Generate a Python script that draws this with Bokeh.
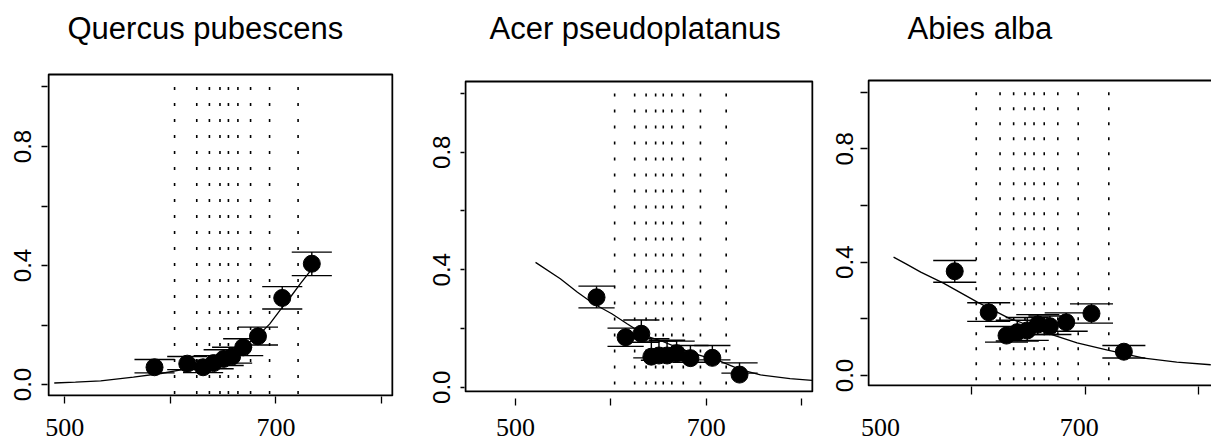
from bokeh.plotting import figure
from bokeh.layouts import row
from bokeh.models import FixedTicker, Range1d, Label, BoxAnnotation
from bokeh.embed import file_html
from bokeh.resources import INLINE

# ---------------- data ----------------
titles = ["Quercus pubescens", "Acer pseudoplatanus", "Abies alba"]

# dotted vertical lines (class boundaries), same in every panel
breaks = [604, 625, 637, 647, 655, 664, 676, 694, 721]
break_top = 1.0
break_bottom = -0.1

y_ticks = [0.0, 0.2, 0.4, 0.6, 0.8, 1.0]
y_labels = {0.0: "0.0", 0.2: "", 0.4: "0.4", 0.6: "", 0.8: "0.8", 1.0: ""}
x_ticks = [500, 600, 700, 800]
x_labels = {500: "500", 600: "", 700: "700", 800: ""}

cap_half_width = 19

# Quercus pubescens
q_x = [585, 616, 631, 641, 650.5, 658.5, 669, 683, 706, 734]
q_y = [0.058, 0.070, 0.058, 0.072, 0.086, 0.094, 0.125, 0.162, 0.291, 0.406]
q_lo = [0.039, 0.050, 0.040, 0.053, 0.064, 0.072, 0.097, 0.133, 0.254, 0.366]
q_hi = [0.084, 0.094, 0.082, 0.097, 0.117, 0.125, 0.154, 0.193, 0.329, 0.445]
q_cx = [490, 510, 534, 565, 591, 610, 628, 645, 660, 672, 682, 694, 704, 714, 723, 734]
q_cy = [0.005, 0.008, 0.012, 0.025, 0.037, 0.049, 0.064, 0.084, 0.109, 0.134,
        0.160, 0.203, 0.250, 0.295, 0.338, 0.388]

# Acer pseudoplatanus
a_x = [585, 615.5, 632, 642.5, 650.5, 659, 669, 683.5, 706.5, 735]
a_y = [0.306, 0.170, 0.182, 0.104, 0.108, 0.108, 0.116, 0.099, 0.100, 0.043]
a_lo = [0.270, 0.139, 0.153, 0.100, 0.092, 0.090, 0.095, 0.085, 0.093, 0.048]
a_hi = [0.344, 0.201, 0.229, 0.165, 0.157, 0.160, 0.157, 0.142, 0.142, 0.083]
a_cx = [521, 547, 565, 582, 601, 617, 638, 652, 670, 690, 715, 736, 757, 788, 811]
a_cy = [0.425, 0.369, 0.323, 0.284, 0.250, 0.216, 0.173, 0.159, 0.135, 0.112,
        0.088, 0.060, 0.042, 0.029, 0.023]

# Abies alba
b_x = [585, 615, 630.7, 640.2, 649, 658.3, 669, 683.4, 705.7, 734.3]
b_y = [0.368, 0.223, 0.141, 0.153, 0.159, 0.180, 0.174, 0.188, 0.219, 0.084]
b_lo = [0.329, 0.191, 0.118, 0.122, 0.124, 0.145, 0.145, 0.156, 0.185, 0.062]
b_hi = [0.406, 0.257, 0.173, 0.195, 0.205, 0.215, 0.210, 0.221, 0.253, 0.106]
b_cx = [531, 542, 555, 575, 605, 634, 643, 664, 693, 720, 752, 781, 811]
b_cy = [0.418, 0.394, 0.365, 0.326, 0.259, 0.200, 0.188, 0.153, 0.115, 0.090,
        0.061, 0.047, 0.038]

# label positions on the third panel's axis (as printed in the figure)
b_label_pos = {519.5: "500", 695: "700"}


def panel(title, xs, ys, lo, hi, cx, cy, xr, yr, box, fw, fh, bl, br, bb,
          t_x, t_y, ytick_len, ystand, xstand, dash):
    p = figure(title=None, frame_width=fw, frame_height=fh, min_border_left=bl,
               min_border_right=br, min_border_top=7, min_border_bottom=bb,
               x_range=Range1d(*xr), y_range=Range1d(*yr),
               output_backend="svg", toolbar_location=None)
    p.grid.visible = False
    p.background_fill_color = "white"
    p.border_fill_color = "white"
    p.outline_line_color = None

    # plot box (R style), drawn inside the frame
    p.add_layout(BoxAnnotation(left=box[0], right=box[1], bottom=box[2], top=box[3],
                               fill_color=None, line_color="black",
                               line_alpha=1.0, line_width=2))

    p.yaxis.ticker = FixedTicker(ticks=y_ticks)
    p.yaxis.major_label_overrides = y_labels
    p.yaxis.major_label_orientation = "vertical"
    p.yaxis.major_label_text_font = "Liberation Sans"
    p.yaxis.major_label_text_font_size = "24px"
    p.yaxis.major_label_text_color = "black"
    p.yaxis.major_label_standoff = ystand
    p.yaxis.major_tick_in = 0
    p.yaxis.major_tick_out = ytick_len
    p.yaxis.minor_tick_line_color = None
    p.yaxis.axis_line_color = None

    p.xaxis.ticker = FixedTicker(ticks=x_ticks)
    p.xaxis.major_label_overrides = x_labels
    p.xaxis.major_label_text_font = "Liberation Serif"
    p.xaxis.major_label_text_font_size = "26px"
    p.xaxis.major_label_text_color = "black"
    p.xaxis.major_label_standoff = xstand
    p.xaxis.major_tick_in = 0
    p.xaxis.major_tick_out = 7
    p.xaxis.minor_tick_line_color = None
    p.xaxis.axis_line_color = None
    for ax in (p.xaxis, p.yaxis):
        ax.major_tick_line_color = "black"
        ax.major_tick_line_width = 1.3

    # panel title (screen offsets from the frame's lower-left corner)
    p.add_layout(Label(x=t_x, y=t_y, x_units="screen", y_units="screen",
                       text=title, text_font="Liberation Sans",
                       text_font_size="31px", text_color="black",
                       text_align="left", text_baseline="alphabetic"))

    # dotted class boundaries
    p.segment(x0=breaks, y0=[break_top] * len(breaks), x1=breaks,
              y1=[break_bottom] * len(breaks), line_color="black",
              line_width=1.6, line_dash=dash)
    # fitted curve
    p.line(cx, cy, line_color="black", line_width=1.3)
    # error bars
    left = [v - cap_half_width for v in xs]
    right = [v + cap_half_width for v in xs]
    p.segment(x0=xs, y0=lo, x1=xs, y1=hi, line_color="black", line_width=1.4)
    p.segment(x0=left, y0=lo, x1=right, y1=lo, line_color="black", line_width=1.4)
    p.segment(x0=left, y0=hi, x1=right, y1=hi, line_color="black", line_width=1.4)
    # points
    p.scatter(xs, ys, size=17, fill_color="black", line_color="black")
    return p


p1 = panel(titles[0], q_x, q_y, q_lo, q_hi, q_cx, q_cy,
           (483.6, 811.4), (-0.0403, 1.2672), (484.6, 810.4, -0.037, 1.042),
           346, 389, 47, 27, 45,
           20, 368, 6, 10, 15, "3 13")
p2 = panel(titles[1], a_x, a_y, a_lo, a_hi, a_cx, a_cy,
           (446.5, 812.6), (-0.018, 1.2926), (447.5, 811.5, -0.0146, 1.0407),
           349, 385, 44, 2, 49,
           25, 364, 4, 10, 13, "3 13")
p2.xaxis.major_tick_in = -6
p2.xaxis.major_tick_out = 13

p3 = panel(titles[2], b_x, b_y, b_lo, b_hi, b_cx, b_cy,
           (508.0, 811.65), (-0.0388, 1.299), (508.9, 830.0, -0.0353, 1.041),
           344, 379, 52, 0, 55,
           40, 358, 7, 7, 24, "3 12")
p3.xaxis.ticker = FixedTicker(ticks=list(b_label_pos.keys()), minor_ticks=[600, 700, 800])
p3.xaxis.major_label_overrides = b_label_pos
p3.xaxis.major_tick_out = 0
p3.xaxis.minor_tick_line_color = "black"
p3.xaxis.minor_tick_line_width = 1.3
p3.xaxis.minor_tick_in = 0
p3.xaxis.minor_tick_out = 8

layout = row(p1, p2, p3)
open("out.html", "w").write(file_html(layout, INLINE))
